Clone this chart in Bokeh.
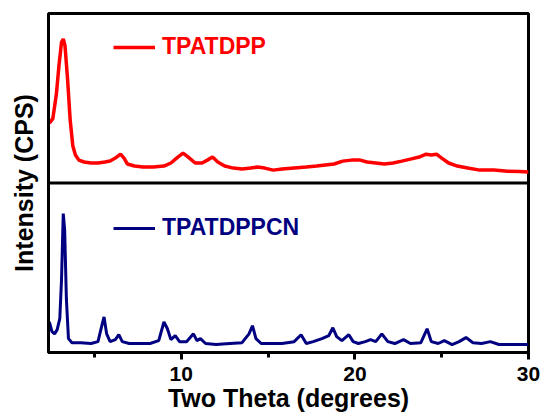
from bokeh.plotting import figure
from bokeh.models import Range1d, Span, Legend, LegendItem, FixedTicker
from bokeh.embed import file_html
from bokeh.resources import INLINE

# ---- data (intensities in % of each panel height) ----
x_top = [2.4, 2.6, 2.8, 2.95, 3.1, 3.2, 3.3, 3.45, 3.6, 3.75, 3.9, 4.1, 4.4, 4.8,
         5.2, 5.6, 5.9, 6.2, 6.5, 6.7, 6.9, 7.3, 7.8, 8.4, 9.0, 9.4, 9.8, 10.1,
         10.4, 10.8, 11.2, 11.5, 11.8, 12.1, 12.5, 13.0, 13.5, 14.0, 14.4, 14.8,
         15.3, 15.8, 16.5, 17.2, 17.8, 18.3, 18.8, 19.3, 19.8, 20.3, 20.7, 21.2,
         21.7, 22.2, 22.7, 23.2, 23.7, 24.1, 24.4, 24.7, 25.0, 25.4, 25.9, 26.5,
         27.2, 28.0, 28.8, 29.5, 30.0]
y_top = [35.3, 38.0, 52.0, 69.0, 83.0, 85.0, 81.0, 61.0, 37.0, 22.0, 16.5, 13.5, 12.4, 11.8,
         11.8, 12.4, 13.0, 14.7, 17.0, 14.7, 11.2, 10.0, 9.4, 9.4, 10.0, 11.8, 15.3, 17.6,
         15.3, 11.8, 11.8, 13.5, 15.3, 12.4, 10.0, 8.8, 8.2, 8.8, 9.4, 8.8,
         7.6, 8.2, 8.8, 9.4, 10.0, 10.6, 11.2, 12.9, 13.5, 13.5, 12.4, 11.8,
         11.2, 11.8, 12.9, 14.1, 15.3, 17.0, 16.5, 17.0, 14.7, 11.8, 10.0, 8.8,
         7.6, 7.6, 7.0, 6.8, 6.5]

x_bot = [2.4, 2.55, 2.7, 2.85, 3.0, 3.1, 3.2, 3.28, 3.38, 3.5, 3.7, 4.2, 4.8, 5.2,
         5.45, 5.55, 5.7, 5.9, 6.2, 6.4, 6.6, 7.0, 7.6, 8.2, 8.7, 9.0, 9.2, 9.4,
         9.65, 9.9, 10.3, 10.7, 10.9, 11.1, 11.4, 12.0, 12.8, 13.5, 13.9, 14.1,
         14.3, 14.6, 15.2, 15.8, 16.5, 16.9, 17.2, 17.6, 18.1, 18.5, 18.73, 18.95,
         19.25, 19.65, 19.9, 20.2, 20.6, 20.9, 21.2, 21.55, 21.9, 22.3, 22.8, 23.2,
         23.8, 24.16, 24.4, 24.8, 25.15, 25.6, 26.0, 26.4, 26.8, 27.3, 27.8, 28.3,
         29.0, 30.0]
y_bot = [18.0, 12.3, 11.0, 13.5, 20.0, 43.0, 82.0, 72.5, 31.6, 8.2, 5.8, 5.8, 5.3, 6.4,
         17.0, 21.0, 11.0, 6.4, 7.6, 10.5, 6.4, 5.3, 5.3, 5.3, 7.0, 18.0, 14.0, 7.6,
         10.0, 6.4, 6.4, 11.0, 7.0, 8.2, 5.3, 4.7, 5.3, 5.8, 11.0, 15.8,
         8.2, 5.3, 5.3, 5.3, 6.4, 10.5, 5.3, 6.4, 8.2, 10.0, 14.6, 9.4,
         7.0, 10.5, 6.4, 5.3, 6.4, 7.6, 6.4, 11.0, 6.4, 5.3, 7.6, 5.3,
         5.8, 14.0, 6.4, 5.3, 7.0, 4.7, 6.4, 8.8, 5.8, 5.3, 6.4, 4.7,
         4.7, 4.7]

x_ticks = [10, 20, 30]
x_minor_ticks = [5, 15, 25]
name_top = "TPATDPP"
name_bot = "TPATDPPCN"
x_title = "Two Theta (degrees)"
y_title = "Intensity (CPS)"

PANEL = 100  # each panel spans 100 units; the upper panel is stacked on top
FONT = "Liberation Sans"

p = figure(width=542, height=414, output_backend="svg", toolbar_location=None,
           x_range=Range1d(2.35, 30), y_range=Range1d(0, 2 * PANEL),
           min_border_left=48, min_border_right=14, min_border_top=13,
           min_border_bottom=0)
p.grid.visible = False
p.outline_line_color = "black"
p.outline_line_width = 3
p.outline_line_alpha = 1.0

r_top = p.line(x_top, [v + PANEL for v in y_top], line_color="#FF0000", line_width=3.5)
r_bot = p.line(x_bot, y_bot, line_color="#000080", line_width=3)

p.add_layout(Span(location=PANEL, dimension="width", line_color="black", line_width=3))

# x axis
xa = p.xaxis[0]
xa.ticker = FixedTicker(ticks=x_ticks, minor_ticks=x_minor_ticks)
xa.axis_line_width = 3
xa.major_tick_in = 0
xa.major_tick_out = 7
xa.major_tick_line_width = 3
xa.minor_tick_in = 0
xa.minor_tick_out = 5
xa.minor_tick_line_width = 3
xa.major_label_text_font = FONT
xa.major_label_text_font_style = "bold"
xa.major_label_text_font_size = "21px"
xa.major_label_text_color = "black"
xa.major_label_standoff = 7
xa.axis_label = x_title
xa.axis_label_text_font = FONT
xa.axis_label_text_font_style = "bold"
xa.axis_label_text_font_size = "25px"
xa.axis_label_text_color = "black"
xa.axis_label_standoff = 0

# y axis
ya = p.yaxis[0]
ya.ticker = FixedTicker(ticks=[])
ya.axis_line_width = 3
ya.major_tick_line_color = None
ya.minor_tick_line_color = None
ya.major_label_text_font_size = "0px"
ya.major_label_standoff = 0
ya.axis_label = y_title
ya.axis_label_text_font = FONT
ya.axis_label_text_font_style = "bold"
ya.axis_label_text_font_size = "25px"
ya.axis_label_text_color = "black"
ya.axis_label_standoff = 11

def make_legend(name, rend, color, loc):
    return Legend(items=[LegendItem(label=name, renderers=[rend])], location=loc,
                  border_line_color=None, background_fill_alpha=0,
                  glyph_width=42, glyph_height=20, label_standoff=7,
                  padding=0, margin=0, label_text_font=FONT,
                  label_text_font_style="bold", label_text_font_size="23px",
                  label_text_color=color, label_height=20)

p.add_layout(make_legend(name_top, r_top, "#FF0000", (65, 292)))
p.add_layout(make_legend(name_bot, r_bot, "#000080", (65, 111)))

open("out.html", "w").write(file_html(p, INLINE))
